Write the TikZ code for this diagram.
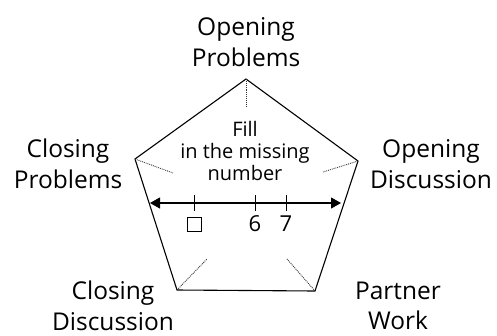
\documentclass[tikz,border=0pt]{standalone}
\usepackage{fontspec}
\setmainfont{Open Sans}
\usetikzlibrary{arrows.meta,positioning,calc}

\begin{document}
\begin{tikzpicture}[x=1pt,y=-1pt,
  edge/.style={line width=1.1pt},
  spoke/.style={densely dotted,line width=0.9pt,black!80},
  lbl/.style={align=center,font=\fontsize{24.5}{30.5}\selectfont,inner sep=0pt},
  task/.style={align=center,font=\fontsize{20}{22}\selectfont,inner sep=0pt},
  digit/.style={font=\fontsize{22}{24}\selectfont,inner sep=0pt},
  nline/.style={line width=1.1pt,{Triangle[length=10pt,width=11pt]}-{Triangle[length=10pt,width=11pt]}},
  tick/.style={line width=1pt},
  blank/.style={draw,line width=0.8pt,minimum size=14pt,inner sep=0pt}
]
  \useasboundingbox (0,0) rectangle (497,335);

  % pentagon corners
  \coordinate (vt) at (246,79);
  \coordinate (vr) at (358,161);
  \coordinate (vbr) at (315,291);
  \coordinate (vbl) at (177,290);
  \coordinate (vl) at (135,159);
  \draw[edge,line join=miter] (vt)--(vr)--(vbr)--(vbl)--(vl)--cycle;

  % dotted spokes
  \coordinate (st) at (246,107);
  \coordinate (sr) at (323,172);
  \coordinate (sbr) at (287,259);
  \coordinate (sbl) at (207,259);
  \coordinate (sl) at (173,173);
  \draw[spoke] (vt)--(st);
  \draw[spoke] (vr)--(sr);
  \draw[spoke] (vbr)--(sbr);
  \draw[spoke] (vbl)--(sbl);
  \draw[spoke] (vl)--(sl);

  % stage labels
  \node[lbl] (opprob) at (246,42) {Opening\\Problems};
  \node[lbl] (opdisc) at (431,164) {Opening\\Discussion};
  \node[lbl] (clprob) at (68,164) {Closing\\Problems};
  \node[lbl] (cldisc) at (113,306) {Closing\\Discussion};
  \node[lbl] (pwork) at (398,306) {Partner\\Work};

  % task in the middle
  \node[task] (fill) at (245,151) {Fill\\in the missing\\number};

  % number line
  \coordinate (nl) at (150,203);
  \coordinate (nr) at (341,203);
  \draw[nline] (nl)--(nr);
  \coordinate (tbox) at (194,203);
  \coordinate (tsix) at (255,203);
  \coordinate (tsev) at (286,203);
  \foreach \t in {tbox,tsix,tsev}
    \draw[tick] ($(\t)+(0,-8)$)--($(\t)+(0,8)$);
  \node[blank] (lbox) at (194,224) {};
  \node[digit] (lsix) at (255,224) {6};
  \node[digit] (lsev) at (286,224) {7};
\end{tikzpicture}
\end{document}
